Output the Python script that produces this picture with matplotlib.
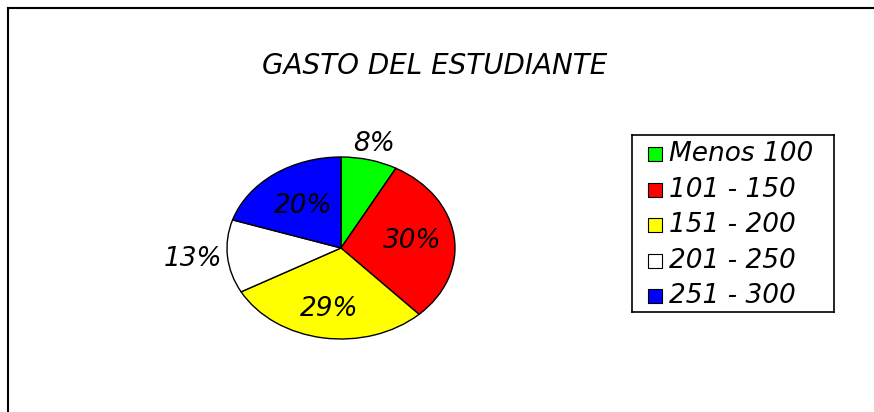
import numpy as np
import matplotlib
matplotlib.use("Agg")
import matplotlib.pyplot as plt
from matplotlib.lines import Line2D

plt.rcParams['font.family'] = ['DejaVu Sans']

categories = ["Menos 100", "101 - 150", "151 - 200", "201 - 250", "251 - 300"]
percents = [8, 30, 29, 13, 20]
colors = ["#00FF00", "#FF0000", "#FFFF00", "#FFFFFF", "#0000FF"]
label_radius = [1.18, 0.63, 0.68, 1.30, 0.57]

W, H = 874, 412
fig = plt.figure(figsize=(W / 100, H / 100), dpi=100)

# frame lines (top and left only)
fig.add_artist(Line2D([8 / W, 1], [1 - 8 / H, 1 - 8 / H], color="black", lw=1.5))
fig.add_artist(Line2D([8 / W, 8 / W], [0, 1 - 8 / H], color="black", lw=1.5))

fig.text(435 / W, 1 - 66 / H, "GASTO DEL ESTUDIANTE", ha="center", va="center",
         fontsize=20, style="italic")

# elliptical pie
ax = fig.add_axes([227 / W, (H - 339) / H, 228 / W, 182 / H])
wedges, _ = ax.pie(percents, colors=colors, startangle=90, counterclock=False,
                   wedgeprops=dict(edgecolor="black", linewidth=1))
ax.set_aspect("auto")
ax.set_xlim(-1, 1)
ax.set_ylim(-1, 1)
for w, p, r in zip(wedges, percents, label_radius):
    ang = np.deg2rad((w.theta1 + w.theta2) / 2)
    ax.text(r * np.cos(ang), r * np.sin(ang), f"{p}%", ha="center", va="center",
            fontsize=19, style="italic", clip_on=False)

# legend
lax = fig.add_axes([632 / W, (H - 312) / H, 202 / W, 177 / H])
lax.set_xlim(0, 1)
lax.set_ylim(len(categories), 0)
lax.set_xticks([])
lax.set_yticks([])
for s in lax.spines.values():
    s.set_linewidth(1.2)
for i, (c, col) in enumerate(zip(categories, colors)):
    y = i + 0.55
    lax.scatter([0.112], [y], marker="s", s=100, color=col, edgecolor="black", linewidth=0.8)
    lax.text(0.185, y, c, ha="left", va="center", fontsize=19, style="italic")

fig.savefig("out.png", dpi=100)
